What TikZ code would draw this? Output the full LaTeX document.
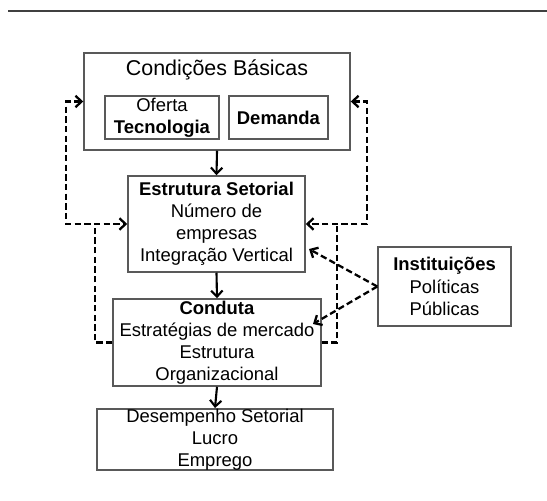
\documentclass[tikz,border=0pt]{standalone}
\usepackage{fontspec}
\setmainfont{Liberation Sans}
\usetikzlibrary{arrows.meta,positioning}

\begin{document}
\begin{tikzpicture}[
    x=0.02cm, y=-0.02cm,
    >={Straight Barb[length=3.5pt,width=6.5pt]},
    box/.style={
        rectangle, draw=black!65,
        line width=0.85pt,
        inner sep=0pt,
        align=center,
        font=\fontsize{10.5}{12.6}\selectfont
    },
    flow/.style={->, line width=1.2pt},
    fb/.style={line width=1.3pt, dash pattern=on 3.6pt off 1.9pt},
    rule/.style={line width=1.1pt, black!75}
]
\useasboundingbox (0,0) rectangle (547,500);
\draw[rule] (8,11) -- (547,11);

\node[box, minimum width=5.32cm, minimum height=1.94cm] (basicas) at (217,101.5) {};
\node[font=\fontsize{12.2}{14}\selectfont] (titulo) at (217,70) {Condições Básicas};
\node[box, minimum width=2.28cm, minimum height=0.86cm] (oferta) at (162,117.5)
    {Oferta\\\textbf{Tecnologia}};
\node[box, minimum width=1.98cm, minimum height=0.86cm] (demanda) at (278.5,117.5)
    {\textbf{Demanda}};

\node[box, minimum width=3.54cm, minimum height=1.92cm] (estr) at (216.5,224)
    {\textbf{Estrutura Setorial}\\Número de\\empresas\\Integração Vertical};
\node[box, minimum width=4.16cm, minimum height=1.74cm] (conduta) at (217,342.5)
    {\textbf{Conduta}\\Estratégias de mercado\\Estrutura\\Organizacional};
\node[box, minimum width=4.72cm, minimum height=1.22cm] (desemp) at (215,439.5)
    {Desempenho Setorial\\Lucro\\Emprego};
\node[box, minimum width=2.66cm, minimum height=1.58cm] (inst) at (444.5,286.5)
    {\textbf{Instituições}\\Políticas\\Públicas};

% main chain
\draw[flow] (basicas.south) -- (estr.north);
\draw[flow] (estr.south) -- (conduta.north);
\draw[flow] (conduta.south) -- (desemp.north);

% feedback
\coordinate (jl) at (95,224);
\coordinate (jr) at (337,224);
\draw[fb,<->] (basicas.west) -- ++(-17,0) |- (estr.west);
\draw[fb,<->] (basicas.east) -- ++(16,0) |- (estr.east);
\draw[fb] (conduta.west) -| (jl);
\draw[fb] (conduta.east) -| (jr);

% institutions
\coordinate (ie) at (309,249);
\coordinate (ic) at (313,324);
\draw[fb,->] (inst.west) -- (ie);
\draw[fb,->] (inst.west) -- (ic);
\end{tikzpicture}
\end{document}
